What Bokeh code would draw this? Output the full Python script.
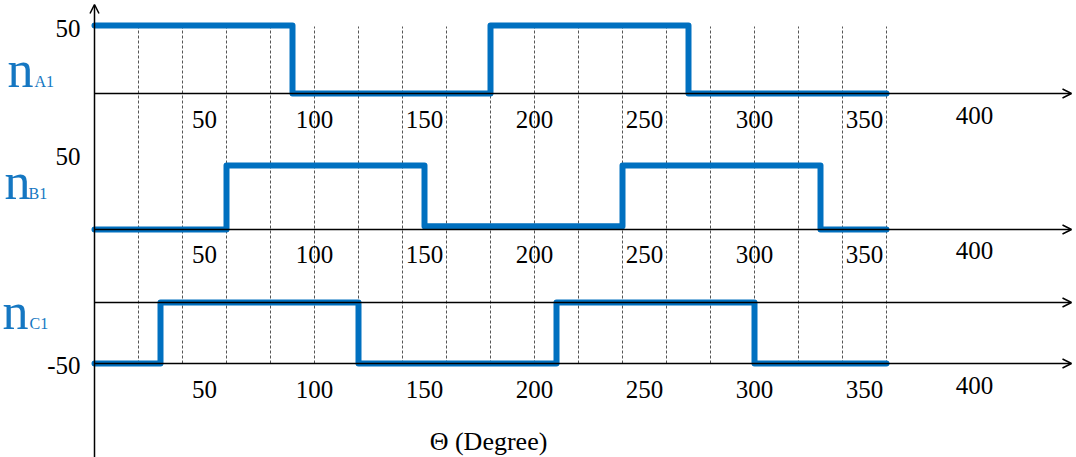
from bokeh.plotting import figure
from bokeh.models import Range1d, Arrow, OpenHead
from bokeh.core.properties import value
from bokeh.embed import file_html
from bokeh.resources import INLINE

# ---------------- data ----------------
theta_A = [0, 90, 180, 270, 360]
nA1 = [50, 0, 50, 0, 0]
theta_B = [0, 60, 150, 240, 330, 360]
nB1 = [0, 50, 2.5, 50, 0, 0]
theta_C = [0, 30, 120, 210, 300, 360]
nC1 = [-50, 0, -50, 0, -50, -50]
x_ticks = [50, 100, 150, 200, 250, 300, 350, 400]
x_tick_labels = ["50", "100", "150", "200", "250", "300", "350", "400"]
grid_theta = [20, 40, 60, 80, 100, 120, 140, 160, 180, 200, 220, 240, 260, 280, 300, 320, 340, 360]

# ---------------- layout helpers ----------------
W, H = 1076, 457
PX_PER_DEG = 2.2
X0_PX = 94                # screen x of theta = 0


def Y(ref_y):
    """vertical position (main range) of a screen row"""
    return H - ref_y


def X(ref_x):
    return (ref_x - X0_PX) / PX_PER_DEG


def panel_range(ref_zero, ref_level, level):
    y0, yl = Y(ref_zero), Y(ref_level)
    slope = (yl - y0) / level
    return Range1d(start=(0 - y0) / slope, end=(H - y0) / slope)


BLUE = "#0070C0"
TXT_BLUE = "#1577C2"
FONT = value("Liberation Serif")

p = figure(width=W, height=H,
           x_range=Range1d(-X0_PX / PX_PER_DEG, (W - X0_PX) / PX_PER_DEG),
           y_range=Range1d(0, H),
           x_axis_location=None, y_axis_location=None,
           output_backend="svg", toolbar_location=None, min_border=0)
p.grid.visible = False
p.outline_line_color = None
p.background_fill_color = "white"
p.border_fill_color = "white"

p.extra_y_ranges = {
    "A": panel_range(93, 25, 50),
    "B": panel_range(229, 165, 50),
    "C": panel_range(302, 363, -50),
}

# dashed vertical guides
p.segment(x0=grid_theta, y0=[Y(363)] * len(grid_theta),
          x1=grid_theta, y1=[Y(26)] * len(grid_theta),
          line_color="#555555", line_width=1, line_dash="3 2")

# axes with arrows
x_arrow_end = X(1071)
for name, lvl in [("A", 0), ("B", 0), ("C", 0), ("C", -50)]:
    p.add_layout(Arrow(end=OpenHead(size=9, line_width=1.5, line_color="black"),
                       x_start=0, y_start=lvl, x_end=x_arrow_end, y_end=lvl,
                       line_width=1.5, line_color="black", y_range_name=name))
p.add_layout(Arrow(end=OpenHead(size=9, line_width=1.5, line_color="black"),
                   x_start=0, y_start=Y(470), x_end=0, y_end=Y(4),
                   line_width=1.5, line_color="black"))

# step waveforms
for name, xs, ys in [("A", theta_A, nA1), ("B", theta_B, nB1), ("C", theta_C, nC1)]:
    p.step(x=xs, y=ys, mode="after", y_range_name=name,
           line_color=BLUE, line_width=6, line_join="round", line_cap="round")

# tick labels under each axis
for base in [119, 254, 389]:
    ys = [Y(base)] * (len(x_ticks) - 1) + [Y(base - 4)]
    p.text(x=x_ticks, y=ys, text=x_tick_labels, text_font=FONT,
           text_font_size="25px", text_color="black",
           text_align="center", text_baseline="middle")

# left value labels
p.text(x=[X(80)] * 3, y=[Y(28), Y(156), Y(365)], text=["50", "50", "-50"],
       text_font=FONT, text_font_size="25px", text_color="black",
       text_align="right", text_baseline="middle")

# series names n_A1 / n_B1 / n_C1
p.text(x=[X(7), X(4), X(2)], y=[Y(69), Y(181), Y(311)], text=["n", "n", "n"],
       text_font=FONT, text_font_size="52px", text_color=TXT_BLUE,
       text_align="left", text_baseline="middle")
p.text(x=[X(34), X(28), X(29)], y=[Y(81), Y(193), Y(323)], text=["A1", "B1", "C1"],
       text_font=FONT, text_font_size="16px", text_color=TXT_BLUE,
       text_align="left", text_baseline="middle")

# x-axis title
p.text(x=[X(488)], y=[Y(441)], text=["\u0398 (Degree)"], text_font=FONT,
       text_font_size="26px", text_color="black",
       text_align="center", text_baseline="middle")

open("out.html", "w").write(file_html(p, INLINE))
